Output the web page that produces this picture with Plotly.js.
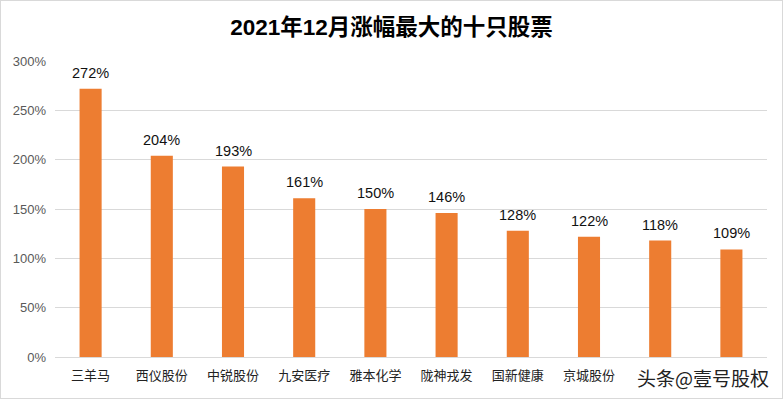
<!DOCTYPE html>
<html><head><meta charset="utf-8">
<script src="https://cdn.plot.ly/plotly-3.0.1.min.js"></script>
<style>
html,body{margin:0;padding:0;background:#fff;}
#wrap{width:783px;height:399px;box-sizing:border-box;border:1px solid #d9d9d9;overflow:hidden;}
#chart{width:781px;height:397px;}
</style></head>
<body><div id="wrap"><div id="chart"></div></div>
<script>
const categories = ["三羊马","西仪股份","中锐股份","九安医疗","雅本化学","陇神戎发","国新健康","京城股份","第九只","第十只"];
const tickLabels = ["三羊马","西仪股份","中锐股份","九安医疗","雅本化学","陇神戎发","国新健康","京城股份","",""];
const gains = [2.72,2.04,1.93,1.61,1.50,1.46,1.28,1.22,1.18,1.09];
const yTicks = [0,0.5,1,1.5,2,2.5,3];
const yTickLabels = ["0%","50%","100%","150%","200%","250%","300%"];
const titleText = "2021年12月涨幅最大的十只股票";
const watermark = "头条@壹号股权";

const trace = {
  type:"bar", x:categories, y:gains,
  marker:{color:"#ed7d31"},
  hoverinfo:"none"
};
const valueLabels = categories.map((c,i)=>({
  x:c, y:gains[i], xref:"x", yref:"y", text:Math.round(gains[i]*100)+"%",
  showarrow:false, yanchor:"bottom", yshift:6,
  font:{family:"Liberation Sans, Arial, sans-serif", size:14.5, color:"#111"}
}));
const layout = {
  width:781, height:397,
  margin:{l:54, r:15, t:60, b:41},
  paper_bgcolor:"#fff", plot_bgcolor:"#fff",
  bargap:0.69,
  showlegend:false,
  title:{text:"<b>"+titleText+"</b>", x:0.5, xanchor:"center", y:0.933, yanchor:"middle",
    font:{family:"Liberation Sans, Noto Sans CJK SC, sans-serif", size:22.5, color:"#000"}},
  xaxis:{tickmode:"array", tickvals:categories, ticktext:tickLabels,
    tickfont:{family:"Noto Sans CJK SC, sans-serif", size:13, color:"#222"},
    ticklabelstandoff:6,
    showline:true, linecolor:"#d9d9d9", linewidth:1, ticks:"", showgrid:false, fixedrange:true},
  yaxis:{range:[0,3], tickmode:"array", tickvals:yTicks, ticktext:yTickLabels,
    tickfont:{family:"Liberation Sans, Arial, sans-serif", size:13, color:"#595959"},
    ticklabelstandoff:8,
    showgrid:true, gridcolor:"#d9d9d9", gridwidth:1, zeroline:false, showline:false,
    ticks:"", ticklen:0, fixedrange:true},
  annotations:valueLabels.concat([{text:watermark, xref:"paper", yref:"paper", x:1.005, y:-0.068, xanchor:"right", yanchor:"middle",
    showarrow:false, font:{family:"Noto Sans CJK SC, sans-serif", size:19, color:"#222"}}])
};
Plotly.newPlot("chart",[trace],layout,{displayModeBar:false, staticPlot:true});
</script></body></html>
